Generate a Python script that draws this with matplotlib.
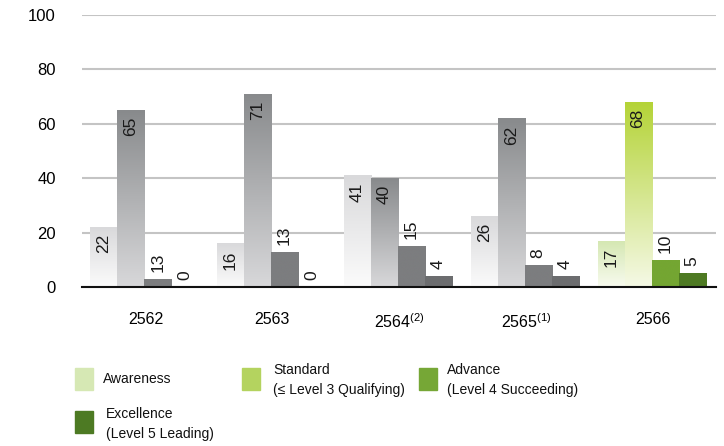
import numpy as np
import matplotlib
matplotlib.use('Agg')
import matplotlib.pyplot as plt
from matplotlib.colors import LinearSegmentedColormap
from matplotlib.patches import Rectangle

plt.rcParams['font.family'] = ['Liberation Sans', 'DejaVu Sans']
plt.rcParams['mathtext.fontset'] = 'custom'
plt.rcParams['mathtext.rm'] = 'Liberation Sans'

# data
years = ['2562', '2563', '2564$^{(2)}$', '2565$^{(1)}$', '2566']
series = ['Awareness', 'Standard\n(≤ Level 3 Qualifying)',
          'Advance\n(Level 4 Succeeding)', 'Excellence\n(Level 5 Leading)']
awareness = [22, 16, 41, 26, 17]
standard = [65, 71, 40, 62, 68]
advance = [3, 13, 15, 8, 10]      # bar height as drawn
excellence = [0, 0, 4, 4, 5]
advance_labels = ['13', '13', '15', '8', '10']

values = [awareness, standard, advance, excellence]
labels = [[str(v) for v in awareness], [str(v) for v in standard],
          advance_labels, [str(v) for v in excellence]]

# (top colour, bottom colour) for grey years and for the last year
grey_cols = [('#d9d9db', '#fbfbfb'), ('#888a8c', '#d8d8da'),
             ('#7c7d7f', '#7c7d7f'), ('#6c6d6f', '#6c6d6f')]
green_cols = [('#d4e7b1', '#f8fbef'), ('#b4d336', '#f5f9e6'),
              ('#74a632', '#74a632'), ('#4e7a23', '#4e7a23')]
legend_cols = ['#d6e8b4', '#b4d35f', '#76a736', '#4d7a23']

fig = plt.figure(figsize=(7.24, 4.46), dpi=100)
ax = fig.add_axes([0.1133, 0.3565, 0.876, 0.61])

x = np.arange(len(years))
w = 0.213
grad = np.linspace(0, 1, 256).reshape(-1, 1)

for i, vals in enumerate(values):
    offs = (i - 1.5) * w - 0.01
    for j, v in enumerate(vals):
        top, bot = green_cols[i] if j == len(years) - 1 else grey_cols[i]
        cmap = LinearSegmentedColormap.from_list('g', [bot, top])
        xpos = x[j] + offs
        bar = ax.bar(xpos, v, width=w, color='none', edgecolor='none', zorder=3)[0]
        if v > 0:
            im = ax.imshow(grad, cmap=cmap, origin='lower', aspect='auto',
                           extent=[xpos - w / 2, xpos + w / 2, 0, v], zorder=3)
            im.set_clip_path(bar)
        lab = labels[i][j]
        if i < 2:
            ax.annotate(lab, (xpos, v), xytext=(0, -5), textcoords='offset points',
                        rotation=90, ha='center', va='top', fontsize=12.5,
                        color='#1a1a1a', zorder=5)
        else:
            ax.annotate(lab, (xpos, v), xytext=(0, 5), textcoords='offset points',
                        rotation=90, ha='center', va='bottom', fontsize=12.5,
                        color='#1a1a1a', zorder=5)

ax.set_xlim(-0.5, len(years) - 0.5)
ax.set_ylim(0, 100)
ax.set_yticks([0, 20, 40, 60, 80, 100])
ax.set_xticks(x)
ax.set_xticklabels(years, fontsize=11.5)
ax.tick_params(axis='y', length=0, pad=19, labelsize=12)
ax.tick_params(axis='x', length=0, pad=18)
ax.grid(axis='y', color='#c4c4c4', linewidth=1.5, zorder=0)
ax.set_axisbelow(True)
for s in ['top', 'right', 'left']:
    ax.spines[s].set_visible(False)
ax.spines['bottom'].set_linewidth(1.5)
ax.spines['bottom'].set_color('#111111')
ax.spines['bottom'].set_zorder(6)

# legend drawn by hand
H = 446.0
W = 724.0
leg = [(75, 368, 103, 379), (242, 368, 273, 380), (419, 368, 447, 380), (75, 411, 106, 424)]
for (px, py, tx, ty), name, col in zip(leg, series, legend_cols):
    fig.add_artist(Rectangle((px / W, 1 - (py + 22) / H), 18 / W, 22 / H,
                             transform=fig.transFigure, color=col))
    fig.text(tx / W, 1 - ty / H, name, fontsize=10, va='center', ha='left',
             linespacing=1.6, color='#111111')

fig.savefig('out.png', dpi=100)
